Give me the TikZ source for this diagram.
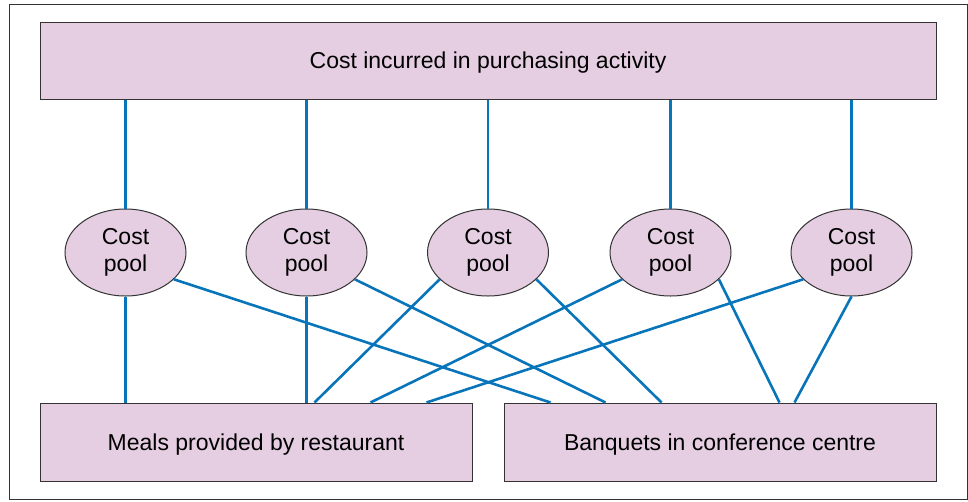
\documentclass[tikz,border=0pt]{standalone}
\usepackage{fontspec}
\setmainfont{Liberation Sans}
\usetikzlibrary{shapes.geometric}
\definecolor{poolpink}{HTML}{E5CEE2}
\definecolor{linkblue}{HTML}{0874BA}
\begin{document}
\begin{tikzpicture}[x=1pt,y=-1pt,
    box/.style={draw=black!80, fill=poolpink, line width=1pt, inner sep=0pt,
        text depth=0pt, font=\fontsize{23}{27}\selectfont},
    pool/.style={ellipse, draw=black!80, fill=poolpink, line width=1pt, inner sep=0pt,
        minimum width=121pt, minimum height=87pt, align=center,
        font=\fontsize{23}{27}\selectfont},
    link/.style={linkblue, line width=2.6pt}]
    \useasboundingbox (0,0) rectangle (968,501);
    % Outer frame
    \draw[black!80, line width=1pt] (9.5,4) rectangle (967,499.5);
    % Activity box on top
    \node[box, minimum width=896pt, minimum height=77pt] (purch) at (488,60.5) {Cost incurred in purchasing activity};
    % Cost objects at the bottom
    \node[box, minimum width=432pt, minimum height=78pt] (meals) at (256,442) {Meals provided by restaurant};
    \node[box, minimum width=432pt, minimum height=78pt] (banq) at (720,442) {Banquets in conference centre};
    % Cost pools, linked up to the activity
    \foreach \i/\x in {1/125.5, 2/306.5, 3/488, 4/670.5, 5/851.5} {
        \node[pool] (pool\i) at (\x,252.5) {Cost\\pool};
        \draw[link] (pool\i.north) -- (pool\i.north |- purch.south);
    }
    % Pools down to meals
    \draw[link] (pool1.south) -- (pool1.south |- meals.north);
    \draw[link] (pool2.south) -- (pool2.south |- meals.north);
    \draw[link] (pool3.-151) -- ([xshift=275pt]meals.north west);
    \draw[link] (pool4.-151) -- ([xshift=331pt]meals.north west);
    \draw[link] (pool5.-151) -- ([xshift=387pt]meals.north west);
    % Pools down to banquets
    \draw[link] (pool1.-29) -- ([xshift=47pt]banq.north west);
    \draw[link] (pool2.-29) -- ([xshift=102pt]banq.north west);
    \draw[link] (pool3.-29) -- ([xshift=158pt]banq.north west);
    \draw[link] (pool4.-29) -- ([xshift=276pt]banq.north west);
    \draw[link] (pool5.south) -- ([xshift=291pt]banq.north west);
\end{tikzpicture}
\end{document}
